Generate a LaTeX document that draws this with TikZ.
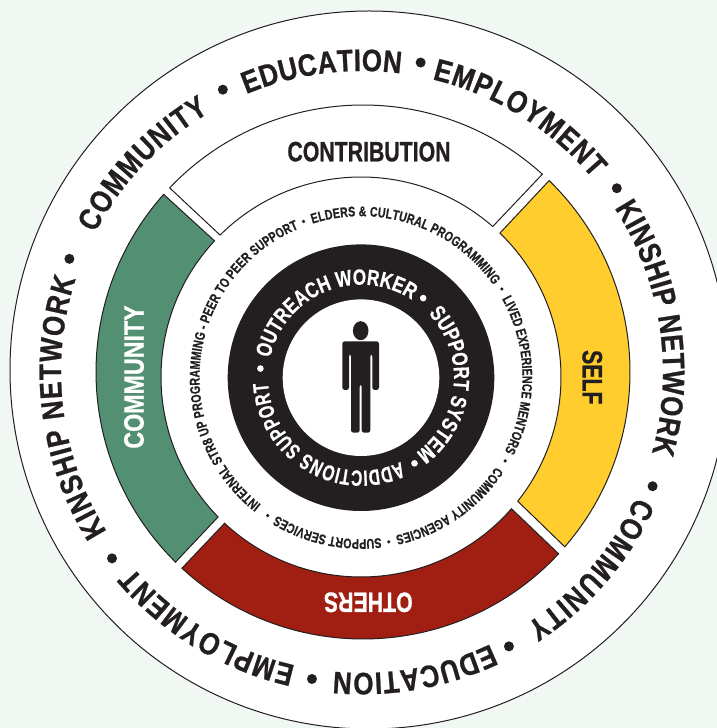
\documentclass[tikz,border=0pt]{standalone}
\usepackage{fontspec}
\usetikzlibrary{decorations.text,calc}
\newfontfamily\ffouter{Liberation Sans}[FakeStretch=.84,FakeBold=.8]
\newfontfamily\ffmid{Liberation Sans}[FakeStretch=.78,FakeBold=.6]
\newfontfamily\ffmidb{Liberation Sans}[FakeStretch=.7,FakeBold=.6]
\newfontfamily\ffinn{Liberation Sans}[FakeStretch=.76,FakeBold=.5]
\newfontfamily\fflab{Liberation Sans}[FakeStretch=.76,FakeBold=.8]
\newfontfamily\fflabw{Liberation Sans}[FakeStretch=.83,FakeBold=.8]
\definecolor{ink}{HTML}{231F20}
\definecolor{bgc}{HTML}{F1F7F3}
\definecolor{grn}{HTML}{538F72}
\definecolor{yel}{HTML}{FFCD2E}
\definecolor{redd}{HTML}{A01F12}
\newcommand{\OUTERF}{\ffouter\bfseries\fontsize{31}{31}\selectfont\color{ink}}
\newcommand{\MIDF}{\ffmid\bfseries\fontsize{22}{22}\selectfont\color{white}}
\newcommand{\MIDBF}{\ffmidb\bfseries\fontsize{22}{22}\selectfont\color{white}}
\newcommand{\INNF}{\ffinn\bfseries\fontsize{14}{14}\selectfont\color{ink}}
% centre x, centre y, radius, start angle, end angle, font, text
\newcommand{\ringtext}[7]{\path[decorate,decoration={text along path,text align={fit to path},text={|#6|#7}}]
  (#1,#2) ++(#4:#3) arc[start angle=#4,end angle=#5,radius=#3];}
% outer start, outer end, inner start, inner end, fill
\newcommand{\segment}[5]{\filldraw[segline,fill=#5]
  (363,356) ++(#1:267) arc[start angle=#1,end angle=#2,radius=267] --
  ($(361,351)+(#4:200)$) arc[start angle=#4,end angle=#3,radius=200] -- cycle;}
\tikzset{segline/.style={draw=ink,line width=1pt,line join=miter},
  lab/.style={inner sep=0pt,font=\fflab\bfseries\fontsize{28}{28}\selectfont},
  labw/.style={inner sep=0pt,font=\fflabw\bfseries\fontsize{28}{28}\selectfont}}
\begin{document}
\begin{tikzpicture}[x=1pt,y=1pt]
\useasboundingbox (0,0) rectangle (717,728);
\clip (0,0) rectangle (717,728);
\fill[bgc] (0,0) rectangle (717,728);
% outer disc
\filldraw[fill=white,draw=ink,line width=1pt] (369,358) circle[radius=359];
% segments
\segment{136.4}{47.8}{134.8}{48.8}{white}
\segment{138.3}{225.4}{137.1}{224.4}{grn}
\segment{45.8}{-40.9}{46}{-38.4}{yel}
\segment{227.3}{317.1}{227}{318.8}{redd}
% black ring
\fill[ink] (361,350.3) circle[radius=133.3];
\fill[white] (361,350.3) circle[radius=78.3];
% labels
\node[lab,text=ink] (contrib) at (369,576.3) {CONTRIBUTION};
\node[labw,text=white,rotate=90] (commu) at (134,351) {COMMUNITY};
\node[lab,text=ink,rotate=-90] (selfn) at (592.3,350.7) {SELF};
\node[lab,text=white,rotate=180] (others) at (368.3,125.7) {OTHERS};
% outer ring
\ringtext{362}{356}{301}{212}{162}{\OUTERF}{KINSHIP NETWORK}
\ringtext{362}{356}{301}{152.5}{120.5}{\OUTERF}{COMMUNITY}
\ringtext{362}{356}{301}{112.6}{82.6}{\OUTERF}{EDUCATION}
\ringtext{362}{356}{301}{76.5}{40}{\OUTERF}{EMPLOYMENT}
\ringtext{362}{356}{301}{33}{-15.6}{\OUTERF}{KINSHIP NETWORK}
\ringtext{362}{356}{301}{-24.5}{-57}{\OUTERF}{COMMUNITY}
\ringtext{362}{356}{301}{-64.7}{-95.4}{\OUTERF}{EDUCATION}
\ringtext{362}{356}{301}{-102.8}{-139.6}{\OUTERF}{EMPLOYMENT}
\foreach \a in {159.2,116.4,79.2,35.5,-21.8,-62,-99.2,-143}
  \fill[ink] (362,358) ++(\a:313) circle[radius=5];
% black ring
\ringtext{361}{350.3}{93}{167.8}{60}{\MIDF}{OUTREACH WORKER}
\ringtext{361}{350.3}{93}{43.6}{-52.7}{\MIDF}{SUPPORT SYSTEM}
\ringtext{361}{350.3}{93}{-64.7}{-177}{\MIDBF}{ADDICTIONS SUPPORT}
\foreach \a in {52,-58,174.8}
  \fill[white] (361,350.3) ++(\a:101) circle[radius=3.3];
% inner text ring
\ringtext{361}{350.3}{161.5}{107.5}{35}{\INNF}{ELDERS {\&} CULTURAL PROGRAMMING}
\ringtext{361}{350.3}{161.5}{29.2}{-27}{\INNF}{LIVED EXPERIENCE MENTORS}
\ringtext{361}{350.3}{161.5}{-33.4}{-77.7}{\INNF}{COMMUNITY AGENCIES}
\ringtext{361}{350.3}{161.5}{-82.9}{-121.4}{\INNF}{SUPPORT SERVICES}
\ringtext{361}{350.3}{161.5}{231.8}{112.7}{\INNF}{INTERNAL STR8 UP PROGRAMMING - PEER TO PEER SUPPORT}
\foreach \a in {110.2,32.2,-30,-80.4,-124.1}
  \fill[ink] (361,350.3) ++(\a:166.5) circle[radius=1.8];
% person
\begin{scope}[shift={(0,728)},yscale=-1]
\fill[ink] (360.7,330.7) ellipse[x radius=7.8,y radius=9.5];
\fill[ink,rounded corners=2.5] (342.3,390) -- (342.3,341.3) -- (379,341.3) -- (379,390)
  -- (372.3,390) -- (372.3,354) -- (370.3,354) -- (370.3,432.7) -- (361.7,432.7)
  -- (361.7,384.3) -- (359.7,384.3) -- (359.7,432.7) -- (351,432.7) -- (351,354)
  -- (349,354) -- (349,390) -- cycle;
\end{scope}
\end{tikzpicture}
\end{document}
